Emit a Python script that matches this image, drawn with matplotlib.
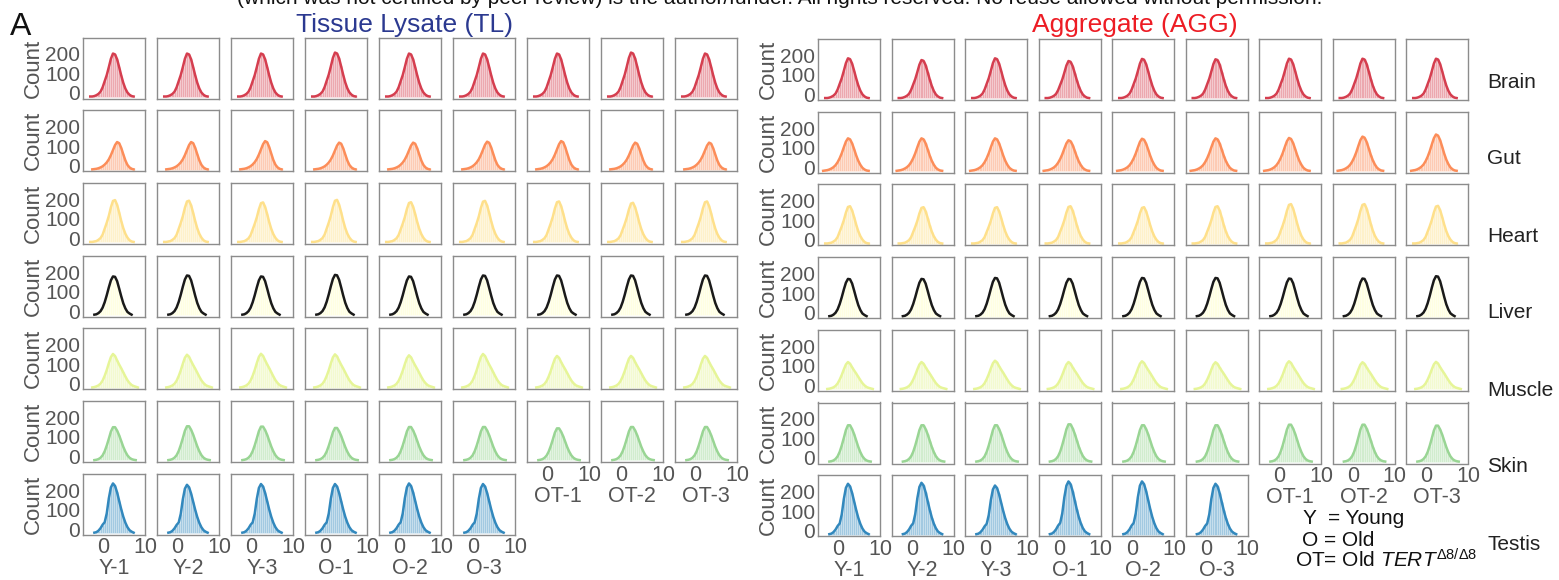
import numpy as np
import matplotlib.pyplot as plt
import matplotlib.transforms as mtransforms

plt.rcParams['font.family'] = ['Liberation Sans', 'DejaVu Sans']
plt.rcParams['mathtext.fontset'] = 'custom'
plt.rcParams['mathtext.rm'] = 'Liberation Sans'
plt.rcParams['mathtext.it'] = 'Liberation Sans:italic'

# histogram bin centres (0.5 wide), shared by every sample
bin_centres = np.arange(-4.25, 9.5, 0.5)

tissues = ['Brain', 'Gut', 'Heart', 'Liver', 'Muscle', 'Skin', 'Testis']
samples = ['Y-1', 'Y-2', 'Y-3', 'O-1', 'O-2', 'O-3', 'OT-1', 'OT-2', 'OT-3']

# shape of each distribution (relative to its peak)
shape_brain = [0, 0, 0.01, 0.01, 0.02, 0.04, 0.07, 0.12, 0.22, 0.36, 0.50, 0.68, 0.87, 0.99,
               0.97, 0.86, 0.68, 0.49, 0.32, 0.19, 0.10, 0.05, 0.02, 0.01, 0, 0, 0, 0]
shape_gut_tl = [0, 0, 0, 0.01, 0.02, 0.03, 0.05, 0.08, 0.12, 0.18, 0.26, 0.37, 0.52, 0.70,
                0.88, 0.99, 0.95, 0.78, 0.55, 0.33, 0.17, 0.08, 0.03, 0.01, 0, 0, 0, 0]
shape_gut_agg = [0, 0.01, 0.02, 0.03, 0.05, 0.08, 0.12, 0.18, 0.27, 0.39, 0.54, 0.72, 0.89, 0.99,
                 0.96, 0.84, 0.66, 0.47, 0.31, 0.19, 0.10, 0.05, 0.02, 0.01, 0, 0, 0, 0]
shape_heart = [0, 0, 0.01, 0.01, 0.02, 0.03, 0.06, 0.10, 0.18, 0.32, 0.46, 0.62, 0.82, 0.97,
               0.99, 0.88, 0.70, 0.50, 0.33, 0.20, 0.11, 0.05, 0.02, 0.01, 0, 0, 0, 0]
shape_liver = [0, 0, 0, 0, 0.01, 0.02, 0.05, 0.10, 0.19, 0.33, 0.51, 0.71, 0.89, 0.99,
               0.98, 0.87, 0.68, 0.48, 0.30, 0.17, 0.08, 0.04, 0.01, 0, 0, 0, 0, 0]
shape_muscle = [0, 0, 0, 0.01, 0.02, 0.04, 0.07, 0.12, 0.21, 0.35, 0.52, 0.72, 0.90, 0.99,
                0.93, 0.80, 0.68, 0.57, 0.45, 0.33, 0.22, 0.14, 0.08, 0.05, 0.03, 0.01, 0, 0]
shape_skin = [0, 0, 0, 0, 0.01, 0.02, 0.04, 0.08, 0.15, 0.27, 0.44, 0.64, 0.85, 0.98,
              0.98, 0.88, 0.74, 0.57, 0.40, 0.26, 0.15, 0.08, 0.04, 0.02, 0.01, 0, 0, 0]
shape_testis = [0, 0, 0, 0, 0.01, 0.02, 0.05, 0.10, 0.17, 0.22, 0.40, 0.70, 0.92, 1.0,
                0.95, 0.82, 0.65, 0.48, 0.33, 0.21, 0.12, 0.06, 0.03, 0.01, 0, 0, 0, 0]

shapes_tl = [shape_brain, shape_gut_tl, shape_heart, shape_liver, shape_muscle, shape_skin, shape_testis]
shapes_agg = [shape_brain, shape_gut_agg, shape_heart, shape_liver, shape_muscle, shape_skin, shape_testis]

# peak counts per sample (Y-1 ... OT-3), testis has no OT samples
peaks_tl = [
    [225, 225, 225, 230, 225, 225, 225, 230, 225],
    [143, 143, 148, 140, 140, 145, 148, 140, 140],
    [219, 216, 207, 220, 208, 215, 212, 205, 212],
    [200, 205, 200, 208, 200, 205, 205, 205, 205],
    [175, 171, 176, 173, 168, 175, 165, 165, 165],
    [174, 179, 177, 170, 175, 175, 168, 175, 175],
    [255, 248, 252, 252, 255, 252],
]
peaks_agg = [
    [208, 199, 208, 194, 205, 203, 206, 206, 206],
    [170, 170, 170, 160, 168, 170, 172, 179, 190],
    [195, 190, 190, 195, 190, 195, 206, 206, 197],
    [195, 195, 200, 195, 200, 200, 197, 197, 209],
    [141, 141, 148, 141, 145, 140, 145, 140, 142],
    [192, 192, 192, 197, 192, 192, 195, 195, 190],
    [261, 266, 252, 273, 273, 261],
]

line_colours = ['#d53e4f', '#fc8d59', '#fee08b', '#1a1a1a', '#e6f598', '#99d594', '#3288bd']
fill_colours = ['#d53e4f', '#fc8d59', '#fee08b', '#ffffbf', '#e6f598', '#99d594', '#3288bd']

W, H = 1559, 580
fig = plt.figure(figsize=(W / 100, H / 100), dpi=100)
# tick labels sit a little above their ticks in the original
label_lift = mtransforms.ScaledTranslation(0, 4 / 100, fig.dpi_scale_trans)


def add_box(left, top, w, h):
    return fig.add_axes([left / W, 1 - (top + h) / H, w / W, h / H])


def draw_panel(x0, dx, y0, shapes, peaks):
    for r in range(len(tissues)):
        for c in range(len(peaks[r])):
            ax = add_box(x0 + c * dx, y0 + r * 72.7, 62, 61)
            counts = np.array(shapes[r]) * peaks[r][c]
            ax.bar(bin_centres, counts, width=0.5, color=fill_colours[r], alpha=0.45,
                   edgecolor='white', linewidth=0.4)
            keep = counts > 0
            ax.plot(bin_centres[keep], counts[keep], color=line_colours[r], lw=1.8)
            ax.set_xlim(-5, 10)
            ax.set_ylim(-8, 305)
            for s in ax.spines.values():
                s.set_color('#8c8c8c')
                s.set_linewidth(1)
            ax.tick_params(length=0, labelsize=15.5, labelcolor='#555555', pad=2)
            if c == 0:
                ax.set_yticks([0, 100, 200])
                ax.tick_params(axis='y', labelsize=15)
                for lab in ax.get_yticklabels():
                    lab.set_transform(lab.get_transform() + label_lift)
                ax.set_ylabel('Count', fontsize=16, color='#555555', labelpad=1)
            else:
                ax.set_yticks([])
            last_row = r == len(tissues) - 1 or (r == len(tissues) - 2 and c >= len(peaks[-1]))
            if last_row:
                ax.set_xticks([0, 10])
                ax.set_xlabel(samples[c], fontsize=15.5, color='#555555', labelpad=0)
            else:
                ax.set_xticks([])


draw_panel(83, 74, 37.5, shapes_tl, peaks_tl)
draw_panel(818, 73.5, 39, shapes_agg, peaks_agg)

# panel headings
fig.text(10 / W, 1 - 35 / H, 'A', fontsize=23, color='#111111')
fig.text(405 / W, 1 - 32 / H, 'Tissue Lysate (TL)', fontsize=19, color='#2b3990', ha='center')
fig.text(1135 / W, 1 - 32 / H, 'Aggregate (AGG)', fontsize=19, color='#ed1c24', ha='center')
fig.text(780 / W, 1 - 4 / H, '(which was not certified by peer review) is the author/funder. '
         'All rights reserved. No reuse allowed without permission.',
         fontsize=15, color='#111111', ha='center', va='baseline')

# tissue names on the right
row_label_y = [83, 159, 237, 313, 390, 467, 545]
for name, y in zip(tissues, row_label_y):
    fig.text(1487 / W, 1 - y / H, name, fontsize=15, color='#222222', va='center')

# key
fig.text(1303 / W, 1 - 519 / H, 'Y  = Young', fontsize=15, color='#111111', va='center')
fig.text(1302 / W, 1 - 540 / H, 'O = Old', fontsize=15, color='#111111', va='center')
fig.text(1295 / W, 1 - 560 / H, r'OT= Old $\mathit{TERT}^{Δ8/Δ8}$', fontsize=15,
         color='#111111', va='center')

fig.savefig('out.png', dpi=100)
